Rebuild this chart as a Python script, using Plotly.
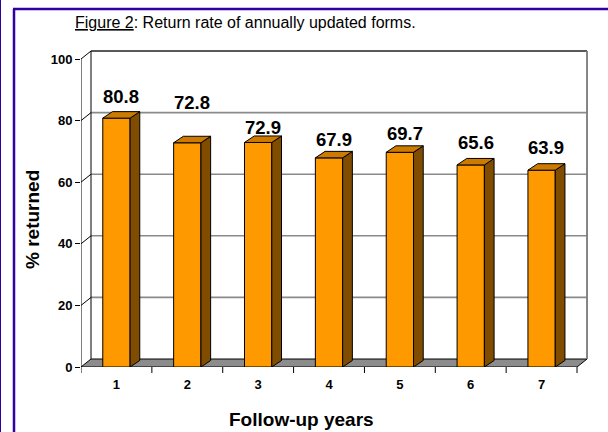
import plotly.graph_objects as go

# ---- data ----
years = ["1", "2", "3", "4", "5", "6", "7"]
returned = [80.8, 72.8, 72.9, 67.9, 69.7, 65.6, 63.9]
y_ticks = [0, 20, 40, 60, 80, 100]
label_lift = [22, 40, 14.5, 18, 19, 22, 23]   # px: label centre above bar front top

# ---- geometry (pixels) ----
W, H = 608, 432
L, R, T, B = 81, 590, 50, 367
PXX = 70.86      # px per category
PXY = 3.08       # px per percent
n = len(years)
xs = list(range(1, n + 1))
xr = [0.5, 0.5 + (R - L) / PXX]
yr = [0, (B - T) / PXY]
wdx, wdy = 10 / PXX, 8 / PXY        # wall depth offset (data units)
bdx, bdy = 9.7 / PXX, 6.5 / PXY     # bar depth offset
bw = 27.3 / PXX
xa, xb = 0.5, n + 0.5

FONT = "Arial, 'Liberation Sans', sans-serif"
FRONT, TOP, SIDE = "#FF9900", "#CC7A00", "#7F4C00"


def px(x):
    return (x - L) / (R - L)


def py(y):
    return (B - y) / (B - T)


shapes = []
# floor
shapes.append(dict(type="path", xref="x", yref="y", layer="below",
                   path=f"M {xa},0 L {xb},0 L {xb+wdx},{wdy} L {xa+wdx},{wdy} Z",
                   fillcolor="#8C8C8C", line=dict(color="black", width=1)))
# back-wall gridlines and side-wall diagonals
for v in y_ticks[1:]:
    top = v == y_ticks[-1]
    shapes.append(dict(type="line", xref="x", yref="y", layer="below",
                       x0=xa + wdx, x1=xb + wdx, y0=v + wdy, y1=v + wdy,
                       line=dict(color="#222222" if top else "#8A8A8A", width=1.6)))
    shapes.append(dict(type="line", xref="x", yref="y", layer="below",
                       x0=xa, x1=xa + wdx, y0=v, y1=v + wdy,
                       line=dict(color="black", width=1)))
# wall verticals
shapes.append(dict(type="line", xref="x", yref="y", layer="below",
                   x0=xa + wdx, x1=xa + wdx, y0=wdy, y1=100 + wdy,
                   line=dict(color="black", width=1)))
shapes.append(dict(type="line", xref="x", yref="y", layer="below",
                   x0=xb + wdx, x1=xb + wdx, y0=wdy, y1=100 + wdy,
                   line=dict(color="#7A7A7A", width=1.8)))
# front value axis
shapes.append(dict(type="line", xref="x", yref="y",
                   x0=xa, x1=xa, y0=0, y1=100,
                   line=dict(color="black", width=1)))
# category tick marks at boundaries
for k in range(n + 1):
    shapes.append(dict(type="line", xref="x", yref="paper",
                       x0=xa + k, x1=xa + k, y0=0, y1=-6 / (B - T),
                       line=dict(color="black", width=1)))
# page borders
BC = "#3300A0"
shapes += [
    dict(type="line", xref="paper", yref="paper", x0=px(0.5), x1=px(0.5), y0=py(0), y1=py(H),
         line=dict(color=BC, width=1)),
    dict(type="line", xref="paper", yref="paper", x0=px(14), x1=px(14), y0=py(9), y1=py(H),
         line=dict(color=BC, width=2.5)),
    dict(type="line", xref="paper", yref="paper", x0=px(13), x1=px(W), y0=py(9), y1=py(9),
         line=dict(color=BC, width=2.5)),
]

# ---- traces ----
fig = go.Figure()
fig.add_trace(go.Bar(x=xs, y=returned, width=bw, marker=dict(color=FRONT, line=dict(color="black", width=1)),
                     hoverinfo="skip"))
sx, sy, tx, ty = [], [], [], []
for x, v in zip(xs, returned):
    r_ = x + bw / 2
    l_ = x - bw / 2
    sx += [r_, r_ + bdx, r_ + bdx, r_, r_, None]
    sy += [0, bdy, v + bdy, v, 0, None]
    tx += [l_, l_ + bdx, r_ + bdx, r_, l_, None]
    ty += [v, v + bdy, v + bdy, v, v, None]
fig.add_trace(go.Scatter(x=sx, y=sy, mode="lines", fill="toself", fillcolor=SIDE,
                         line=dict(color="black", width=1), hoverinfo="skip"))
fig.add_trace(go.Scatter(x=tx, y=ty, mode="lines", fill="toself", fillcolor=TOP,
                         line=dict(color="black", width=1), hoverinfo="skip"))

annotations = []
for x, v, lift in zip(xs, returned, label_lift):
    annotations.append(dict(x=x + bdx / 2, y=v, xref="x", yref="y", yshift=lift,
                            xanchor="center", yanchor="middle",
                            text=f"{v:.1f}", showarrow=False,
                            font=dict(family=FONT, size=18.5, color="black", weight="bold")))
annotations += [
    dict(x=px(245), y=py(22), xref="paper", yref="paper", showarrow=False,
         xanchor="center", yanchor="middle",
         text="<u>Figure 2</u>: Return rate of annually updated forms.",
         font=dict(family=FONT, size=16, color="black")),
    dict(x=px(32), y=py(220), xref="paper", yref="paper", showarrow=False, textangle=-90,
         xanchor="center", yanchor="middle",
         text="% returned", font=dict(family=FONT, size=19, color="black", weight="bold")),
    dict(x=px(301), y=py(419), xref="paper", yref="paper", showarrow=False,
         xanchor="center", yanchor="middle",
         text="Follow-up years", font=dict(family=FONT, size=19, color="black", weight="bold")),
]

fig.update_layout(
    width=W, height=H, margin=dict(l=L, r=W - R, t=T, b=H - B, pad=0),
    paper_bgcolor="white", plot_bgcolor="white", showlegend=False,
    shapes=shapes, annotations=annotations,
    xaxis=dict(range=xr, tickvals=xs, ticktext=years, ticks="", showgrid=False, zeroline=False,
               showline=False, fixedrange=True, ticklabelstandoff=8,
               tickfont=dict(family=FONT, size=13, color="black", weight="bold")),
    yaxis=dict(range=yr, tickvals=y_ticks, ticks="outside", ticklen=5, tickcolor="black",
               tickwidth=1, showgrid=False, zeroline=False, showline=False, fixedrange=True,
               tickfont=dict(family=FONT, size=13, color="black", weight="bold")),
)

fig.write_html("out.html")
